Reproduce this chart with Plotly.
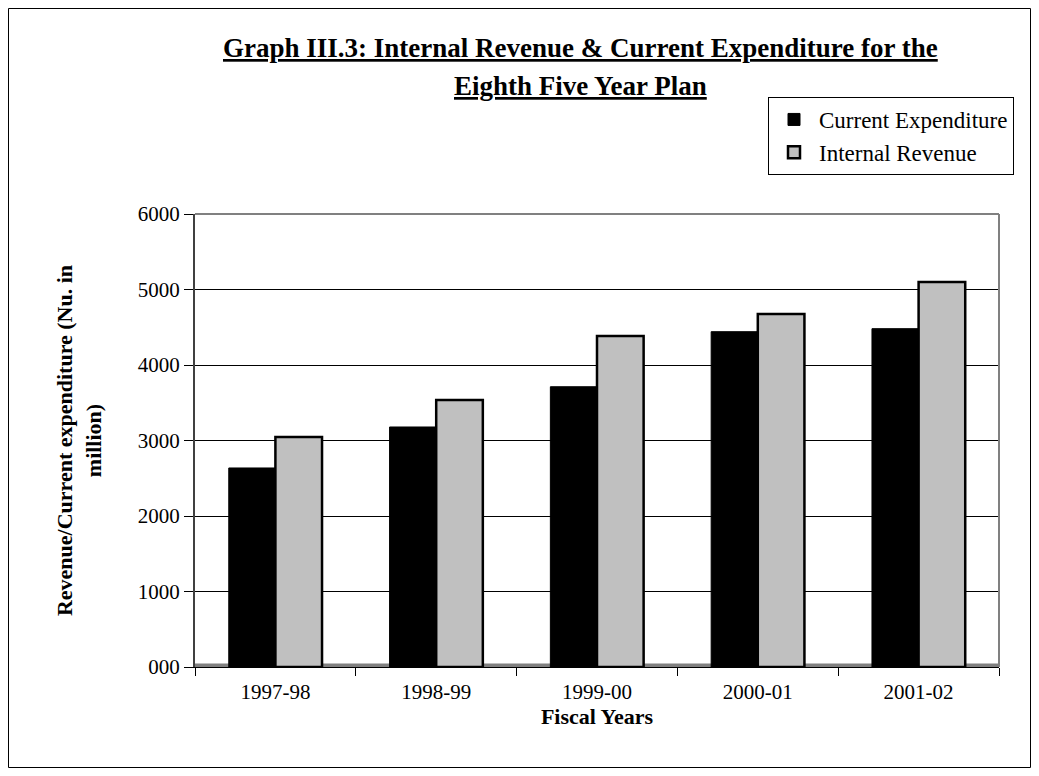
import plotly.graph_objects as go

years = ["1997-98", "1998-99", "1999-00", "2000-01", "2001-02"]
current_expenditure = [2636, 3179, 3712, 4441, 4481]
internal_revenue = [3046, 3536, 4384, 4675, 5099]
y_tickvals = [0, 1000, 2000, 3000, 4000, 5000, 6000]
y_ticktext = ["000", "1000", "2000", "3000", "4000", "5000", "6000"]

SERIF = "Liberation Serif, Times New Roman, serif"

# figure sits inside page body with 8px default margin
OFF = 8
W, H = 1023, 760
L, R, T, B = 187, 32, 206, 101
PW, PH = W - L - R, H - T - B


def px(xp):
    return (xp - OFF - L) / PW


def py(yp):
    return (H - B - (yp - OFF)) / PH


fig = go.Figure()
fig.add_trace(go.Bar(
    x=years, y=current_expenditure, name="Current Expenditure",
    marker=dict(color="#000000", line=dict(color="#000000", width=1)),
))
fig.add_trace(go.Bar(
    x=years, y=internal_revenue, name="Internal Revenue",
    marker=dict(color="#C0C0C0", line=dict(color="#000000", width=2.5)),
))

fig.update_layout(
    width=W, height=H,
    margin=dict(l=L, r=R, t=T, b=B, pad=0, autoexpand=False),
    paper_bgcolor="white", plot_bgcolor="white",
    barmode="group", bargap=0.42, bargroupgap=0,
    font=dict(family=SERIF, color="#000000", size=21),
    showlegend=True,
    legend=dict(
        x=px(768), y=py(97),
        xanchor="left", yanchor="top",
        bordercolor="#000000", borderwidth=1, bgcolor="white",
        font=dict(family=SERIF, size=23, color="#000000"),
        itemwidth=40,
    ),
    xaxis=dict(
        type="category",
        showline=True, linecolor="#000000", linewidth=1,
        ticks="outside", ticklen=8, tickcolor="#000000", tickson="boundaries",
        tickfont=dict(family=SERIF, size=21), ticklabelstandoff=6,
        title=dict(text="<b>Fiscal Years</b>", font=dict(family=SERIF, size=22), standoff=4),
        showgrid=False,
    ),
    yaxis=dict(
        range=[0, 6000], tickvals=y_tickvals, ticktext=y_ticktext,
        showline=True, linecolor="#404040", linewidth=2,
        ticks="outside", ticklen=9, tickcolor="#000000",
        tickfont=dict(family=SERIF, size=21),
        showgrid=True, gridcolor="#000000", gridwidth=1,
        zeroline=False,
        title=dict(text="<b>Revenue/Current expenditure (Nu. in<br>million)</b>",
                   font=dict(family=SERIF, size=22), standoff=30),
    ),
    shapes=[
        dict(type="rect", xref="paper", yref="y", x0=0, x1=1, y0=0, y1=45,
             fillcolor="#808080", line=dict(width=0), layer="below"),
        dict(type="line", xref="paper", yref="paper", x0=0, x1=1, y0=1, y1=1,
             line=dict(color="#808080", width=2)),
        dict(type="line", xref="paper", yref="paper", x0=1, x1=1, y0=0, y1=1,
             line=dict(color="#808080", width=2)),
        dict(type="rect", xref="paper", yref="paper",
             x0=px(8.5), x1=px(1030.5), y0=py(767.5), y1=py(8.5),
             line=dict(color="#000000", width=1)),
    ],
    annotations=[
        dict(text="<b>Graph III.3: Internal Revenue & Current Expenditure for the</b>",
             xref="paper", yref="paper", x=px(580), y=py(48),
             xanchor="center", yanchor="middle", showarrow=False,
             font=dict(family=SERIF, size=27, lineposition="under")),
        dict(text="<b>Eighth Five Year Plan</b>",
             xref="paper", yref="paper", x=px(580), y=py(86),
             xanchor="center", yanchor="middle", showarrow=False,
             font=dict(family=SERIF, size=27, lineposition="under")),
    ],
)

fig.write_html("out.html")
